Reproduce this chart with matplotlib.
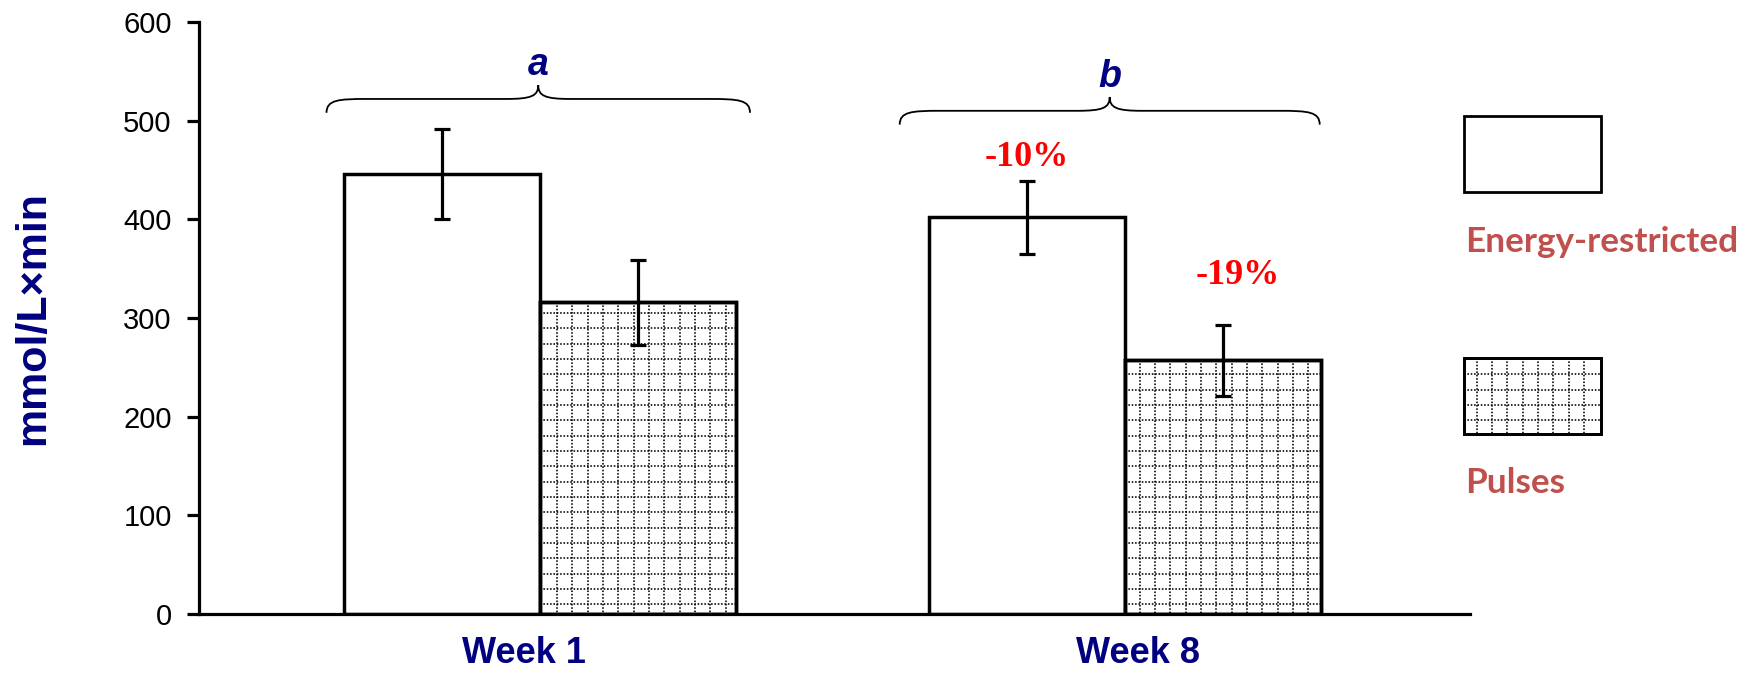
import numpy as np
import matplotlib
matplotlib.use("Agg")
import matplotlib.pyplot as plt
from matplotlib.patches import Rectangle, PathPatch
from matplotlib.path import Path
from matplotlib.lines import Line2D

# ---- data ----
weeks = ["Week 1", "Week 8"]
energy_restricted = [446, 402]
energy_restricted_err = [46, 37]
pulses = [316, 257]
pulses_err = [43, 36]
group_letters = ["a", "b"]
series_names = ["Energy-restricted", "Pulses"]
y_ticks = [0, 100, 200, 300, 400, 500, 600]

# ---- style ----
NAVY = "#000080"
PCT_RED = "#FF0000"
LEGEND_RED = "#C0504D"
plt.rcParams["font.family"] = ["Liberation Sans", "DejaVu Sans"]

W, H = 1754, 676
fig = plt.figure(figsize=(W / 100, H / 100), dpi=100)
AX_L, AX_R, AX_T, AX_B = 199, 1470, 22, 614
ax = fig.add_axes([AX_L / W, 1 - AX_B / H, (AX_R - AX_L) / W, (AX_B - AX_T) / H])

x = np.arange(len(weeks))
bw = 0.335
ax.set_xlim(-0.583, 1.590)
ax.set_ylim(0, 600)

bars_er = ax.bar(x - bw / 2, energy_restricted, bw, color="white",
                 edgecolor="black", linewidth=2.5, zorder=2)
bars_p = ax.bar(x + bw / 2, pulses, bw, color="white",
                edgecolor="black", linewidth=2.5, zorder=2)

# dotted grid fill for the Pulses bars (pattern anchored in figure pixels)
PERIOD = 15.33
GX0, GY0 = 557, 313
DOT = dict(color="black", linewidth=1.15, dashes=(1.0, 1.1))


def dotted_grid(owner, clip_patch, x0, x1, y0, y1, z):
    """Draw the dotted grid inside a pixel box, clipped to a patch."""
    lines = []
    kx0 = int(np.floor((x0 - GX0) / PERIOD)) - 1
    kx1 = int(np.ceil((x1 - GX0) / PERIOD)) + 1
    for k in range(kx0, kx1 + 1):
        px = GX0 + k * PERIOD
        if x0 + 3 < px < x1 - 3:
            lines.append(([px / W, px / W], [1 - y0 / H, 1 - y1 / H]))
    ky0 = int(np.floor((y0 - GY0) / PERIOD)) - 1
    ky1 = int(np.ceil((y1 - GY0) / PERIOD)) + 1
    for k in range(ky0, ky1 + 1):
        py = GY0 + k * PERIOD
        if y0 + 3 < py < y1 - 3:
            lines.append(([x0 / W, x1 / W], [1 - py / H, 1 - py / H]))
    for xs, ys in lines:
        ln = Line2D(xs, ys, transform=fig.transFigure, zorder=z, **DOT)
        if owner is ax:
            ax.add_line(ln)
        else:
            fig.add_artist(ln)
        ln.set_clip_path(clip_patch)


fig.canvas.draw()
for rect in bars_p:
    bb = rect.get_window_extent()
    dotted_grid(ax, rect, bb.x0, bb.x1, H - bb.y1, H - bb.y0, 2.5)

# redraw the Pulses outlines above the dotted fill
for rect in bars_p:
    ax.add_patch(Rectangle(rect.get_xy(), rect.get_width(), rect.get_height(),
                           fill=False, edgecolor="black", linewidth=2.5, zorder=3))

# error bars
ax.errorbar(x - bw / 2, energy_restricted, yerr=energy_restricted_err, fmt="none",
            ecolor="black", elinewidth=2.3, capsize=6, capthick=2.3, zorder=4)
ax.errorbar(x + bw / 2, pulses, yerr=pulses_err, fmt="none",
            ecolor="black", elinewidth=2.3, capsize=6, capthick=2.3, zorder=4)

# percent change from Week 1 to Week 8
pct_er = round((energy_restricted[1] - energy_restricted[0]) / energy_restricted[0] * 100)
pct_p = round((pulses[1] - pulses[0]) / pulses[0] * 100)
pct_style = dict(color=PCT_RED, fontsize=26, fontweight="bold",
                 family="Liberation Serif", ha="center", va="baseline")
ax.text(x[1] - bw / 2, energy_restricted[1] + energy_restricted_err[1] + 15,
        f"{pct_er}%", **pct_style)
ax.text(x[1] + bw / 2 + 0.025, pulses[1] + pulses_err[1] + 41,
        f"{pct_p}%", **pct_style)


# curly braces with group letters
def brace(xc, half, y_end, y_h, y_tip, lw=1.3):
    curl = 0.068
    tip = 0.055
    verts = [
        (xc - half, y_end),
        (xc - half, y_h - 1), (xc - half + 0.02, y_h), (xc - half + curl, y_h),
        (xc - tip, y_h),
        (xc - 0.012, y_h), (xc, y_h + 3), (xc, y_tip),
        (xc, y_h + 3), (xc + 0.012, y_h), (xc + tip, y_h),
        (xc + half - curl, y_h),
        (xc + half - 0.02, y_h), (xc + half, y_h - 1), (xc + half, y_end),
    ]
    codes = [Path.MOVETO,
             Path.CURVE4, Path.CURVE4, Path.CURVE4,
             Path.LINETO,
             Path.CURVE4, Path.CURVE4, Path.CURVE4,
             Path.CURVE4, Path.CURVE4, Path.CURVE4,
             Path.LINETO,
             Path.CURVE4, Path.CURVE4, Path.CURVE4]
    ax.add_patch(PathPatch(Path(verts, codes), fill=False, edgecolor="black",
                           linewidth=lw, clip_on=False, zorder=5))


brace_geom = [(-0.003, 0.362, 508, 522, 536, 546),
              (0.974 - 1, 0.359, 496, 510, 524, 534)]
for xi, letter, (dx, half, ye, yh, yt, yl) in zip(x, group_letters, brace_geom):
    brace(xi + dx, half, ye, yh, yt)
    ax.text(xi + dx, yl, letter, color=NAVY, fontsize=27, fontweight="bold",
            style="italic", ha="center", va="baseline", clip_on=False)

# axes styling
for side in ("top", "right"):
    ax.spines[side].set_visible(False)
for side in ("left", "bottom"):
    ax.spines[side].set_linewidth(2.3)
ax.spines["left"].set_bounds(0, 600)

ax.set_yticks(y_ticks)
ax.set_yticklabels([str(v) for v in y_ticks])
ax.tick_params(axis="y", direction="out", length=8.6, width=2.3, labelsize=21, pad=11)

label_shift = [-0.027, 0.022]
ax.set_xticks(x + np.array(label_shift))
ax.set_xticklabels(weeks)
ax.tick_params(axis="x", length=0, labelsize=26, pad=16, labelcolor=NAVY)
for t in ax.get_xticklabels():
    t.set_fontweight("bold")

fig.text(33 / W, 1 - 318 / H, "mmol/L×min", rotation=90, ha="center", va="center",
         color=NAVY, fontsize=31, fontweight="bold")

# legend drawn as boxes with labels beneath
box_x0, box_x1 = 1464, 1601
box_rows = [(116, 192, 252), (358, 434, 493)]
for i, (name, (by0, by1, tb)) in enumerate(zip(series_names, box_rows)):
    box = Rectangle((box_x0 / W, 1 - by1 / H), (box_x1 - box_x0) / W, (by1 - by0) / H,
                    transform=fig.transFigure, facecolor="white", edgecolor="black",
                    linewidth=2.0, zorder=3)
    fig.add_artist(box)
    if i == 1:
        dotted_grid(fig, box, box_x0, box_x1, by0, by1, 3.5)
        fig.add_artist(Rectangle((box_x0 / W, 1 - by1 / H), (box_x1 - box_x0) / W,
                                 (by1 - by0) / H, transform=fig.transFigure,
                                 fill=False, edgecolor="black", linewidth=2.0, zorder=4))
    fig.text(1465 / W, 1 - tb / H, name, color=LEGEND_RED, fontsize=25.3,
             fontweight="bold", family=["Lato", "DejaVu Sans"], ha="left", va="baseline")

fig.savefig("out.png", dpi=100, facecolor="white")
